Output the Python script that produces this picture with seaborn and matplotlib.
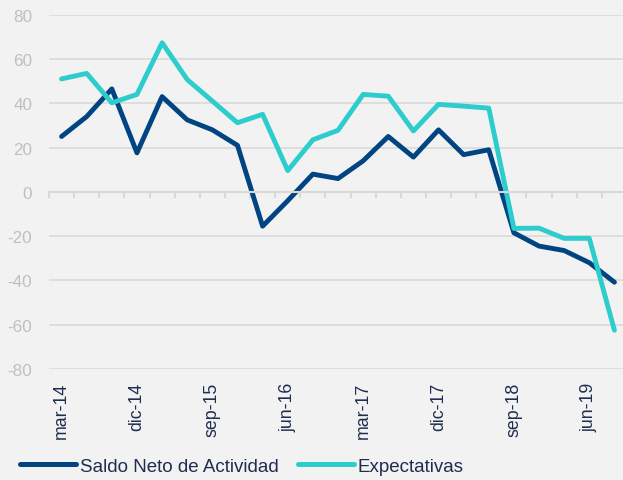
import matplotlib
matplotlib.use("Agg")
import matplotlib.pyplot as plt
from matplotlib.ticker import FixedLocator
import numpy as np
import pandas as pd
import seaborn as sns

# Quarterly periods
trimestres = [
    "mar-14", "jun-14", "sep-14", "dic-14",
    "mar-15", "jun-15", "sep-15", "dic-15",
    "mar-16", "jun-16", "sep-16", "dic-16",
    "mar-17", "jun-17", "sep-17", "dic-17",
    "mar-18", "jun-18", "sep-18", "dic-18",
    "mar-19", "jun-19", "sep-19",
]

saldo_neto = [25, 34, 46.5, 17.6, 43, 32.5, 28, 21, -15.5, -4, 8, 6,
              14, 25, 15.7, 28, 16.8, 19, -18.5, -24.5, -26.5, -32, -40.8]
expectativas = [51, 53.5, 40.2, 44, 67.3, 50.7, 41, 31.2, 35, 9.6, 23.5, 27.8,
                44, 43.2, 27.5, 39.5, 38.7, 37.8, -16.5, -16.4, -21, -21, -62.5]

series_names = ["Saldo Neto de Actividad", "Expectativas"]
series_colors = ["#004481", "#2DCCCD"]
y_ticks = [-80, -60, -40, -20, 0, 20, 40, 60, 80]

pos = np.arange(len(trimestres))
df = pd.concat([
    pd.DataFrame({"pos": pos, "valor": saldo_neto, "serie": series_names[0]}),
    pd.DataFrame({"pos": pos, "valor": expectativas, "serie": series_names[1]}),
])

sns.set_theme(style="white")
plt.rcParams["font.family"] = ["Liberation Sans", "DejaVu Sans"]
plt.rcParams["axes.unicode_minus"] = False

BG = "#F2F2F2"
GRID = "#D9D9D9"
NAVY = "#1F2D4E"

fig = plt.figure(figsize=(6.23, 4.81), dpi=100, facecolor=BG)
ax = fig.add_axes([49 / 623, 1 - 370 / 481, 578 / 623, (370 - 15.7) / 481])
ax.set_facecolor(BG)

sns.lineplot(data=df, x="pos", y="valor", hue="serie", hue_order=series_names,
             palette=series_colors, linewidth=3.5, ax=ax, legend=True,
             solid_capstyle="round", solid_joinstyle="round")

ax.set_xlim(-0.5, len(trimestres) - 0.5)
ax.set_ylim(-80, 80)
ax.set_xlabel("")
ax.set_ylabel("")

# horizontal gridlines
ax.set_yticks(y_ticks)
ax.yaxis.grid(True, color=GRID, linewidth=1.2)
ax.xaxis.grid(False)
ax.set_axisbelow(True)
ax.tick_params(axis="y", length=0, pad=12, labelsize=12.3, labelcolor="#BFBFBF")

for s in ["top", "right", "left"]:
    ax.spines[s].set_visible(False)

# category axis drawn along the zero line, ticks between categories
ax.spines["bottom"].set_position(("data", 0))
ax.spines["bottom"].set_color(GRID)
ax.spines["bottom"].set_linewidth(1.5)
ax.xaxis.set_major_locator(FixedLocator(np.arange(-0.5, len(trimestres) + 0.5, 1)))
ax.tick_params(axis="x", which="major", bottom=True, direction="out", length=4,
               width=1.5, color=GRID, labelbottom=False)

# period labels at the bottom of the plot area
sec = ax.secondary_xaxis(0)
sec.set_xticks(pos[::3])
sec.set_xticklabels(trimestres[::3], rotation=90, va="top", ha="center")
sec.tick_params(axis="x", length=0, pad=9, labelsize=12.8, labelcolor=NAVY)
sec.spines["bottom"].set_visible(False)

# legend below the chart
handles, labels = ax.get_legend_handles_labels()
ax.get_legend().remove()
for h in handles:
    h.set_linewidth(3.6)
    h.set_solid_capstyle("round")
fig.legend(handles, labels, loc="center left", bbox_to_anchor=(20 / 623, 1 - 467 / 481),
           ncol=2, frameon=False, fontsize=13.5, handlelength=3.0, handletextpad=0.2,
           columnspacing=1.0, borderpad=0, borderaxespad=0, labelcolor=NAVY)

fig.savefig("out.png", dpi=100, facecolor=BG)
